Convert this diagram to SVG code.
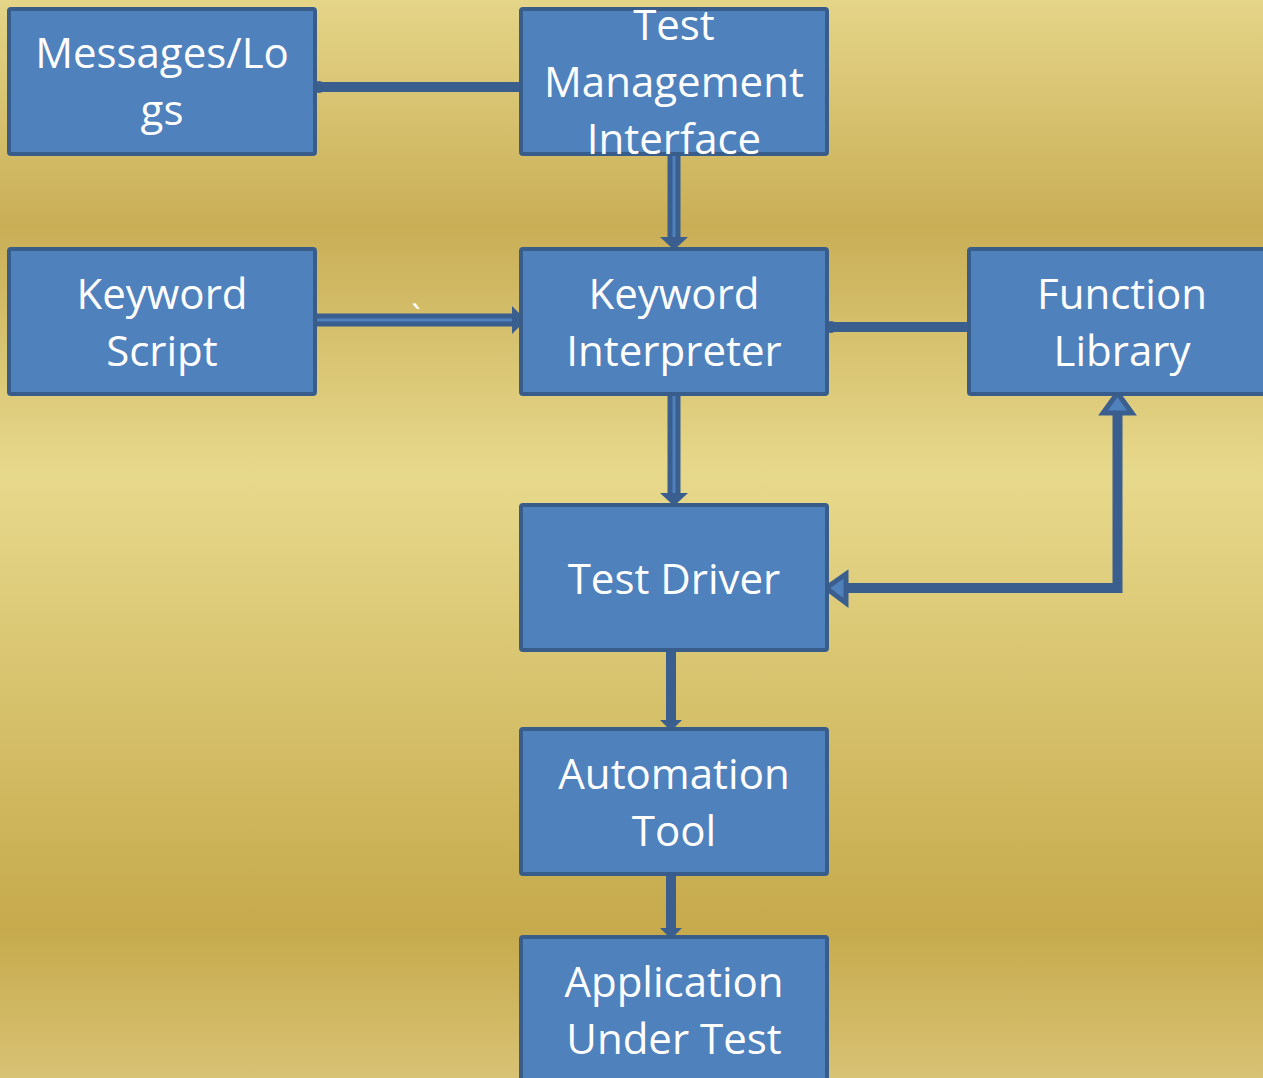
<svg xmlns="http://www.w3.org/2000/svg" width="1263" height="1078" viewBox="0 0 1263 1078">
  <defs>
    <linearGradient id="bg" x1="0" y1="0" x2="0" y2="1">
      <stop offset="0" stop-color="#e5d588"/>
      <stop offset="0.21" stop-color="#c9ae56"/>
      <stop offset="0.44" stop-color="#e7d98c"/>
      <stop offset="0.86" stop-color="#c6aa4c"/>
      <stop offset="1" stop-color="#d8c274"/>
    </linearGradient>
    <style>
      .box { fill: #4f81bd; stroke: #385d8a; stroke-width: 4; }
      .lbl { fill: #ffffff; font-family: "Open Sans", "Noto Sans", "Liberation Sans", sans-serif; font-size: 42px; text-anchor: middle; }
      .wire { fill: none; stroke: #3a5f8f; stroke-width: 10; }
      .pipe { fill: none; stroke: #3a5f8f; stroke-width: 13; }
      .core { fill: none; stroke: #4f81bd; stroke-width: 3; }
      .open { fill: #4f81bd; stroke: #3a5f8f; stroke-width: 5; stroke-linejoin: miter; }
      .head { fill: #3a5f8f; }
    </style>
  </defs>

  <rect x="0" y="0" width="1263" height="1078" fill="url(#bg)"/>

  <g id="connectors">
    <!-- Messages/Logs — Test Management Interface -->
    <line class="wire" x1="318" y1="87" x2="521" y2="87"/>
    <circle cx="319" cy="87" r="6" class="head"/>
    <!-- Test Management Interface → Keyword Interpreter -->
    <line class="pipe" x1="674" y1="156" x2="674" y2="238"/>
    <line class="core" x1="674" y1="156" x2="674" y2="240"/>
    <path class="head" d="M660,237 L688,237 L674,250 Z"/>
    <!-- Keyword Script → Keyword Interpreter -->
    <line class="pipe" x1="317" y1="320" x2="513" y2="320"/>
    <line class="core" x1="317" y1="320" x2="516" y2="320"/>
    <path class="head" d="M512,306 L526,320 L512,334 Z"/>
    <text x="416" y="330" fill="#ffffff" font-family="Open Sans, sans-serif" font-size="34" text-anchor="middle">`</text>
    <!-- Keyword Interpreter — Function Library -->
    <line class="wire" x1="830" y1="327" x2="969" y2="327"/>
    <circle cx="831" cy="327" r="6" class="head"/>
    <!-- Keyword Interpreter → Test Driver -->
    <line class="pipe" x1="674" y1="396" x2="674" y2="494"/>
    <line class="core" x1="674" y1="396" x2="674" y2="496"/>
    <path class="head" d="M660,493 L688,493 L674,506 Z"/>
    <!-- Test Driver ⇄ Function Library -->
    <polyline class="wire" points="846,588 1117.5,588 1117.5,413"/>
    <path class="open" d="M1117.5,393 L1132,413 L1103,413 Z"/>
    <path class="open" d="M826,588 L846,574 L846,603 Z"/>
    <!-- Test Driver → Automation Tool -->
    <line class="wire" x1="671" y1="652" x2="671" y2="722"/>
    <path class="head" d="M660,720 L682,720 L671,731 Z"/>
    <!-- Automation Tool → Application Under Test -->
    <line class="wire" x1="671" y1="876" x2="671" y2="930"/>
    <path class="head" d="M660,928 L682,928 L671,939 Z"/>
  </g>

  <g id="messages-logs">
    <rect class="box" x="9" y="9" width="306" height="145" rx="2"/>
    <text class="lbl" x="162" y="68">Messages/Lo</text>
    <text class="lbl" x="162" y="125">gs</text>
  </g>

  <g id="test-management-interface">
    <rect class="box" x="521" y="9" width="306" height="145" rx="2"/>
    <text class="lbl" x="674" y="40">Test</text>
    <text class="lbl" x="674" y="97">Management</text>
    <text class="lbl" x="674" y="154">Interface</text>
  </g>

  <g id="keyword-script">
    <rect class="box" x="9" y="249" width="306" height="145" rx="2"/>
    <text class="lbl" x="162" y="309">Keyword</text>
    <text class="lbl" x="162" y="366">Script</text>
  </g>

  <g id="keyword-interpreter">
    <rect class="box" x="521" y="249" width="306" height="145" rx="2"/>
    <text class="lbl" x="674" y="309">Keyword</text>
    <text class="lbl" x="674" y="366">Interpreter</text>
  </g>

  <g id="function-library">
    <rect class="box" x="969" y="249" width="306" height="145" rx="2"/>
    <text class="lbl" x="1122" y="309">Function</text>
    <text class="lbl" x="1122" y="366">Library</text>
  </g>

  <g id="test-driver">
    <rect class="box" x="521" y="505" width="306" height="145" rx="2"/>
    <text class="lbl" x="674" y="594">Test Driver</text>
  </g>

  <g id="automation-tool">
    <rect class="box" x="521" y="729" width="306" height="145" rx="2"/>
    <text class="lbl" x="674" y="789">Automation</text>
    <text class="lbl" x="674" y="846">Tool</text>
  </g>

  <g id="application-under-test">
    <rect class="box" x="521" y="937" width="306" height="150" rx="2"/>
    <text class="lbl" x="674" y="997">Application</text>
    <text class="lbl" x="674" y="1054">Under Test</text>
  </g>
</svg>
